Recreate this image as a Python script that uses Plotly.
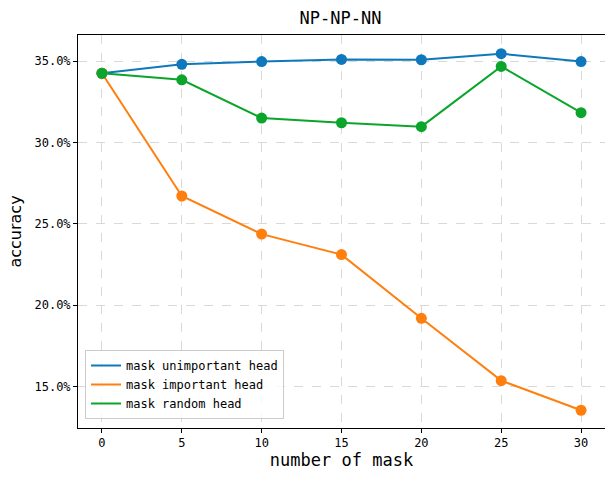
import plotly.graph_objects as go

masks = [0, 5, 10, 15, 20, 25, 30]
unimportant = [34.25, 34.80, 34.97, 35.10, 35.08, 35.45, 34.97]
important = [34.25, 26.71, 24.37, 23.11, 19.20, 15.37, 13.55]
random_head = [34.25, 33.85, 31.50, 31.21, 30.97, 34.67, 31.83]
y_ticks = [15, 20, 25, 30, 35]
y_tick_labels = ["15.0%", "20.0%", "25.0%", "30.0%", "35.0%"]
x_ticks = [0, 5, 10, 15, 20, 25, 30]

series = [
    ("mask unimportant head", unimportant, "#0f78bd"),
    ("mask important head", important, "#ff7f0e"),
    ("mask random head", random_head, "#0ba52b"),
]

fig = go.Figure()
for name, vals, color in series:
    fig.add_trace(go.Scatter(
        x=masks, y=vals, name=name, mode="lines",
        line=dict(color=color, width=2),
        showlegend=True,
    ))
for name, vals, color in series:
    fig.add_trace(go.Scatter(
        x=masks, y=vals, name=name, mode="markers",
        marker=dict(color=color, size=11),
        showlegend=False,
    ))

mono = "DejaVu Sans Mono"
fig.update_layout(
    width=605, height=477,
    margin=dict(l=78, r=0, t=35, b=49, autoexpand=False),
    plot_bgcolor="white", paper_bgcolor="white",
    title=dict(text="NP-NP-NN", x=(78 + 525 / 2) / 605, xanchor="center", y=1 - 18/477, yanchor="middle",
               font=dict(family=mono, size=17, color="black")),
    xaxis=dict(
        range=[-1.5, 31.5], tickvals=x_ticks, ticks="outside", ticklen=4,
        tickcolor="black", showline=True, linecolor="black", linewidth=1, mirror=True,
        showgrid=True, gridcolor="#d9d9d9", griddash="dash", gridwidth=1, zeroline=False,
        tickfont=dict(family=mono, size=12, color="black"), automargin=False,
        title=dict(text="number of mask", font=dict(family=mono, size=17, color="black"), standoff=4),
    ),
    yaxis=dict(
        range=[12.46, 36.6], tickvals=y_ticks, ticktext=y_tick_labels, ticks="outside", ticklen=4,
        tickcolor="black", showline=True, linecolor="black", linewidth=1, mirror=False,
        showgrid=True, gridcolor="#d9d9d9", griddash="dash", gridwidth=1, zeroline=False,
        tickfont=dict(family=mono, size=12, color="black"), automargin=False,
        title=dict(text="accuracy", font=dict(family="DejaVu Sans", size=16, color="black"), standoff=8),
    ),
    legend=dict(
        x=7 / 527, y=9 / 393, xanchor="left", yanchor="bottom",
        bgcolor="rgba(255,255,255,0.8)", bordercolor="#cccccc", borderwidth=1,
        font=dict(family=mono, size=12, color="black"), tracegroupgap=0,
        itemwidth=30,
    ),
)

fig.write_html(
    "out.html",
    config={"displayModeBar": False},
    post_script="document.body.style.margin='0';document.body.style.overflow='hidden';",
)
